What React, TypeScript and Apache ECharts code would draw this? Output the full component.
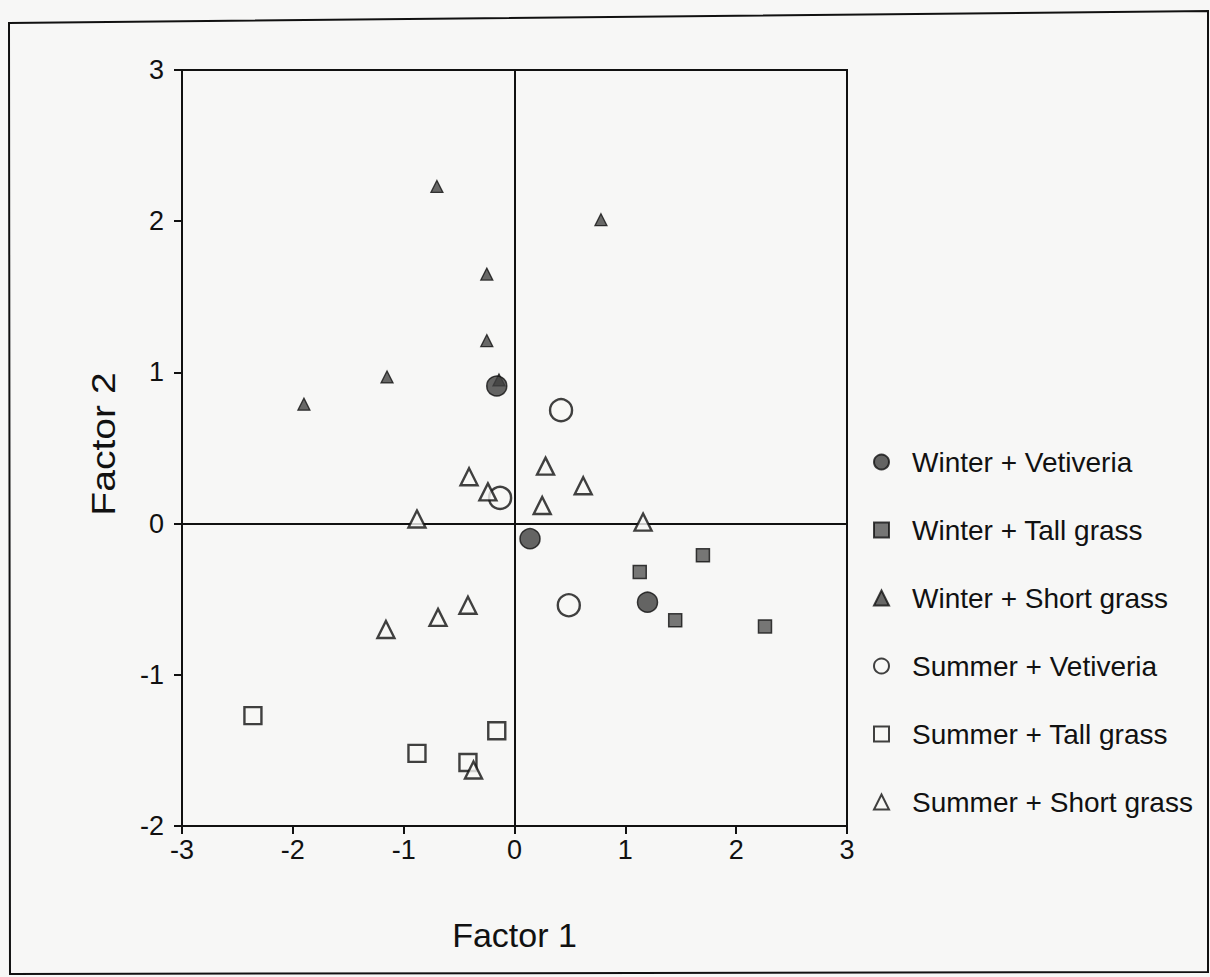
import React, { useEffect, useRef } from "react";
import * as echarts from "echarts";

// Factor scores (Factor 1, Factor 2) for each season/habitat group
const winterVetiveria: [number, number][] = [
  [-0.16, 0.91],
  [0.14, -0.1],
  [1.2, -0.52],
];
const winterTallGrass: [number, number][] = [
  [1.13, -0.32],
  [1.7, -0.21],
  [1.45, -0.64],
  [2.26, -0.68],
];
const winterShortGrass: [number, number][] = [
  [-0.7, 2.23],
  [0.78, 2.01],
  [-0.25, 1.65],
  [-0.25, 1.21],
  [-1.15, 0.97],
  [-1.9, 0.79],
  [-0.14, 0.95],
];
const summerVetiveria: [number, number][] = [
  [0.42, 0.75],
  [-0.13, 0.17],
  [0.49, -0.54],
];
const summerTallGrass: [number, number][] = [
  [-2.36, -1.27],
  [-0.88, -1.52],
  [-0.16, -1.37],
  [-0.42, -1.58],
];
const summerShortGrass: [number, number][] = [
  [-0.41, 0.31],
  [-0.24, 0.21],
  [0.28, 0.38],
  [0.62, 0.25],
  [0.25, 0.12],
  [-0.88, 0.03],
  [1.16, 0.01],
  [-0.42, -0.54],
  [-0.69, -0.62],
  [-1.16, -0.7],
  [-0.37, -1.63],
];

const FONT = "Arial, 'Liberation Sans', sans-serif";
const INK = "#111";
const PAPER = "#f7f7f6";

export default function App() {
  const ref = useRef<HTMLDivElement>(null);

  useEffect(() => {
    if (!ref.current) return;
    const chart = echarts.init(ref.current, undefined, { renderer: "svg" });

    const tickLabel = { color: INK, fontSize: 27, fontFamily: FONT };

    const axisCommon = {
      type: "value" as const,
      min: -3,
      max: 3,
      interval: 1,
      splitLine: { show: false },
      axisLine: { show: true, onZero: false, lineStyle: { color: INK, width: 2 } },
      axisTick: { show: true, inside: false, length: 8, lineStyle: { color: INK, width: 2 } },
      nameTextStyle: { color: INK, fontSize: 34, fontFamily: FONT },
      nameLocation: "middle" as const,
    };

    chart.setOption({
      animation: false,
      backgroundColor: PAPER,
      graphic: [
        {
          type: "polygon",
          shape: {
            points: [
              [9, 23],
              [1208, 11],
              [1208, 972],
              [10, 974],
            ],
          },
          style: { fill: "none", stroke: INK, lineWidth: 2 },
          silent: true,
        },
        {
          type: "text",
          x: 103,
          y: 444,
          rotation: Math.PI / 2,
          scaleX: 1.15,
          style: {
            text: "Factor 2",
            fontSize: 34,
            fontFamily: FONT,
            fill: INK,
            align: "center",
            verticalAlign: "middle",
          },
          silent: true,
        },
      ],
      grid: {
        left: 182,
        right: 363,
        top: 70,
        bottom: 151,
        show: true,
        borderColor: INK,
        borderWidth: 2,
        backgroundColor: "transparent",
      },
      xAxis: {
        ...axisCommon,
        name: "Factor 1",
        nameGap: 92,
        axisLabel: { ...tickLabel, margin: 10 },
      },
      yAxis: {
        ...axisCommon,
        min: -2,
        max: 3,
        axisLabel: { ...tickLabel, margin: 18 },
      },
      legend: {
        orient: "vertical",
        left: 868,
        top: 443,
        itemGap: 40,
        itemWidth: 15,
        itemHeight: 15,
        textStyle: { color: INK, fontSize: 28, fontFamily: FONT, padding: [0, 0, 0, 18] },
        data: [
          { name: "Winter + Vetiveria", icon: "circle" },
          { name: "Winter + Tall grass", icon: "rect" },
          { name: "Winter + Short grass", icon: "triangle" },
          { name: "Summer + Vetiveria", icon: "circle" },
          { name: "Summer + Tall grass", icon: "rect" },
          { name: "Summer + Short grass", icon: "triangle" },
        ],
      },
      series: [
        {
          name: "Winter + Vetiveria",
          type: "scatter",
          data: winterVetiveria,
          symbol: "circle",
          symbolSize: 20,
          itemStyle: { color: "#3e3e3e", borderColor: INK, borderWidth: 1.5 },
          z: 5,
          markLine: {
            silent: true,
            symbol: "none",
            label: { show: false },
            lineStyle: { color: INK, width: 2, type: "solid" },
            data: [{ xAxis: 0 }, { yAxis: 0 }],
            z: 1,
          },
        },
        {
          name: "Winter + Tall grass",
          type: "scatter",
          data: winterTallGrass,
          symbol: "rect",
          symbolSize: 13,
          itemStyle: { color: "#555", borderColor: INK, borderWidth: 1.5 },
          z: 5,
        },
        {
          name: "Winter + Short grass",
          type: "scatter",
          data: winterShortGrass,
          symbol: "triangle",
          symbolSize: 12,
          itemStyle: { color: "#444", borderColor: INK, borderWidth: 1.3 },
          z: 4,
        },
        {
          name: "Summer + Vetiveria",
          type: "scatter",
          data: summerVetiveria,
          symbol: "circle",
          symbolSize: 22,
          itemStyle: { color: PAPER, borderColor: INK, borderWidth: 2.4 },
          z: 5,
        },
        {
          name: "Summer + Tall grass",
          type: "scatter",
          data: summerTallGrass,
          symbol: "rect",
          symbolSize: 17,
          itemStyle: { color: PAPER, borderColor: INK, borderWidth: 2.4 },
          z: 5,
        },
        {
          name: "Summer + Short grass",
          type: "scatter",
          data: summerShortGrass,
          symbol: "triangle",
          symbolSize: 17,
          itemStyle: { color: PAPER, borderColor: INK, borderWidth: 2.4 },
          z: 6,
        },
      ],
    });

    return () => chart.dispose();
  }, []);

  return (
    <div
      ref={ref}
      style={{ position: "fixed", left: 0, top: 0, width: 1210, height: 977 }}
    />
  );
}
